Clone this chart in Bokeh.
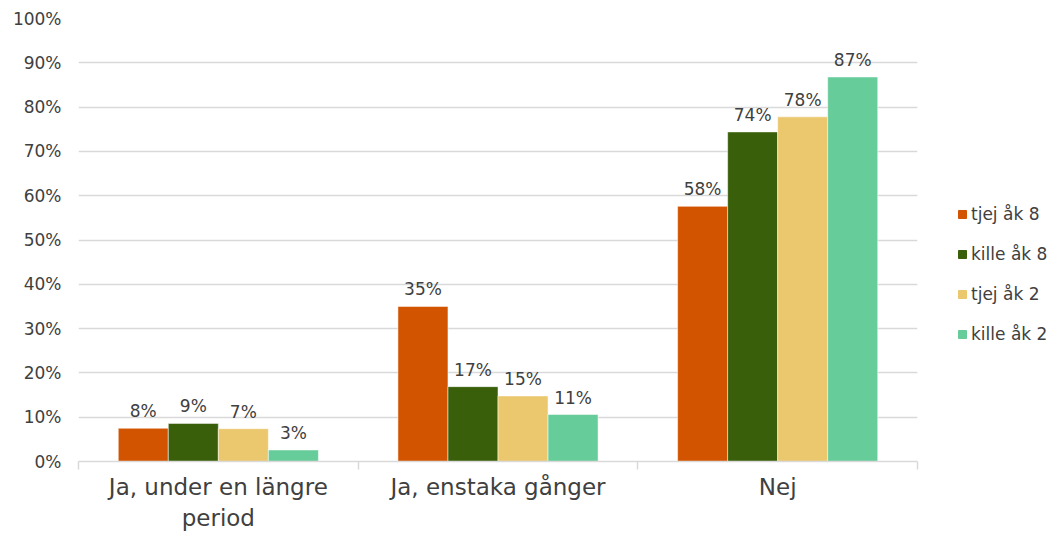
from bokeh.plotting import figure
from bokeh.layouts import row
from bokeh.models import Range1d, FixedTicker, ColumnDataSource, Legend, LegendItem
from bokeh.core.properties import value
from bokeh.embed import file_html
from bokeh.resources import INLINE

categories = ["Ja, under en längre\nperiod", "Ja, enstaka gånger", "Nej"]
series = ["tjej åk 8", "kille åk 8", "tjej åk 2", "kille åk 2"]
tjej_ak8 = [7.5, 35.0, 57.6]
kille_ak8 = [8.6, 16.9, 74.4]
tjej_ak2 = [7.4, 14.8, 77.8]
kille_ak2 = [2.6, 10.6, 86.8]
values = [tjej_ak8, kille_ak8, tjej_ak2, kille_ak2]
colors = ["#D35400", "#3A5F0B", "#EBC86E", "#66CC99"]
y_ticks = [0, 10, 20, 30, 40, 50, 60, 70, 80, 90, 100]

FONT = "DejaVu Sans"
TXT = "#404040"
GRID = "#D9D9D9"

p = figure(width=920, height=533, output_backend="svg", toolbar_location=None,
           x_range=Range1d(0, len(categories)), y_range=Range1d(0, 100),
           min_border_left=78, min_border_right=3, min_border_top=18,
           min_border_bottom=72)
p.outline_line_color = None
p.background_fill_color = "white"
p.border_fill_color = "white"

bar_w = 50 / 279.5
for j, (name, vals, col) in enumerate(zip(series, values, colors)):
    xs = [i + 0.5 + (j - 1.5) * bar_w for i in range(len(categories))]
    src = ColumnDataSource(dict(x=xs, top=vals,
                                lab=[f"{int(v + 0.5)}%" for v in vals]))
    p.vbar(x="x", top="top", width=bar_w, bottom=0, source=src,
           fill_color=col, line_color="white", line_alpha=0.5, line_width=1)
    p.text(x="x", y="top", text="lab", source=src, text_align="center",
           text_baseline="bottom", y_offset=-7, text_font=value(FONT),
           text_font_size="17px", text_color=TXT)

# y axis
p.yaxis.ticker = FixedTicker(ticks=y_ticks)
p.yaxis.major_label_overrides = {t: f"{t}%" for t in y_ticks}
p.yaxis.axis_line_color = None
p.yaxis.major_tick_line_color = None
p.yaxis.minor_tick_line_color = None
p.yaxis.major_tick_out = 0
p.yaxis.major_label_standoff = 17
p.yaxis.major_label_text_font = FONT
p.yaxis.major_label_text_font_size = "17px"
p.yaxis.major_label_text_color = TXT

p.ygrid.grid_line_color = GRID
p.ygrid.grid_line_width = 1.5
p.xgrid.grid_line_color = None

# x axis
centers = [i + 0.5 for i in range(len(categories))]
p.xaxis.ticker = FixedTicker(ticks=centers,
                             minor_ticks=list(range(len(categories) + 1)))
p.xaxis.major_label_overrides = {c: lab for c, lab in zip(centers, categories)}
p.xaxis.axis_line_color = GRID
p.xaxis.axis_line_width = 1.5
p.xaxis.major_tick_line_color = None
p.xaxis.major_tick_out = 0
p.xaxis.minor_tick_line_color = GRID
p.xaxis.minor_tick_line_width = 1.5
p.xaxis.minor_tick_out = 8
p.xaxis.minor_tick_in = 0
p.xaxis.major_label_standoff = 4
p.xaxis.major_label_text_font = FONT
p.xaxis.major_label_text_font_size = "23px"
p.xaxis.major_label_text_color = TXT

# legend panel (separate figure so the legend can sit right of the plot)
lf = figure(width=143, height=533, output_backend="svg", toolbar_location=None,
            x_axis_type=None, y_axis_type=None,
            x_range=Range1d(0, 1), y_range=Range1d(0, 1),
            min_border=0)
lf.outline_line_color = None
lf.grid.grid_line_color = None
items = []
for name, col in zip(series, colors):
    # legend swatch renderer; its single point lies outside the visible range
    r = lf.rect(x=[-5], y=[-5], width=1, height=1, fill_color=col, line_color=col)
    items.append(LegendItem(label=name, renderers=[r]))

lg = Legend(items=items, location=(37, 117))
lg.border_line_color = None
lg.background_fill_alpha = 0
lg.padding = 0
lg.margin = 0
lg.glyph_width = 10
lg.glyph_height = 10
lg.label_standoff = 4
lg.spacing = 20
lg.label_height = 20
lg.label_text_font = FONT
lg.label_text_font_size = "17px"
lg.label_text_color = TXT
lf.add_layout(lg, "center")

open("out.html", "w").write(file_html(row(p, lf), INLINE))
